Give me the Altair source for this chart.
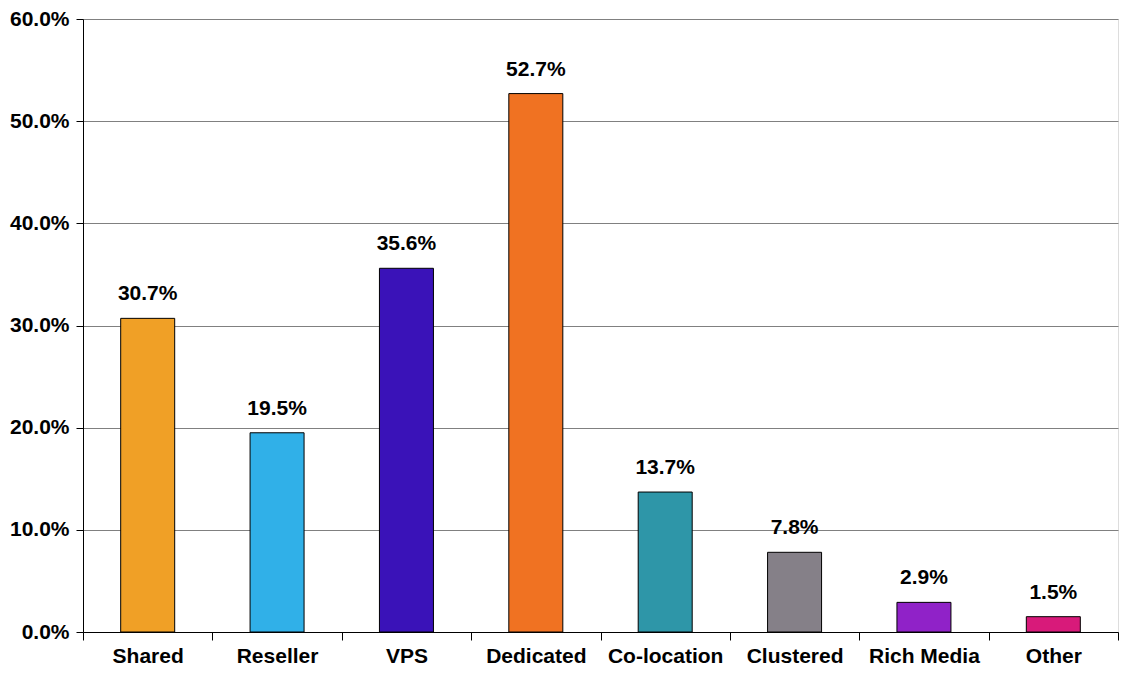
import altair as alt
import pandas as pd

categories = ["Shared", "Reseller", "VPS", "Dedicated", "Co-location", "Clustered", "Rich Media", "Other"]
values = [30.7, 19.5, 35.6, 52.7, 13.7, 7.8, 2.9, 1.5]
colors = ["#F0A026", "#30B0E8", "#3A12B8", "#F07222", "#2E96A8", "#858088", "#9022C8", "#D81A7A"]

df = pd.DataFrame({"cat": categories, "val": [v / 100 for v in values],
                   "label": [f"{v:.1f}%" for v in values]})

FONT = "Liberation Sans"
FS = 21

x = alt.X("cat:N", sort=categories, title=None,
          scale=alt.Scale(paddingInner=0, paddingOuter=0),
          axis=alt.Axis(labelAngle=0, tickBand="extent", tickSize=8, tickColor="#000000",
                        domainColor="#000000", labelPadding=5, labelFont=FONT,
                        labelFontSize=FS, labelFontWeight="bold", labelColor="#000000",
                        grid=False))
y = alt.Y("val:Q", title=None,
          scale=alt.Scale(domain=[0, 0.6], nice=False),
          axis=alt.Axis(format=".1%", values=[0, 0.1, 0.2, 0.3, 0.4, 0.5, 0.6],
                        tickSize=7, tickColor="#000000", domainColor="#000000",
                        labelPadding=7, labelFont=FONT, labelFontSize=FS,
                        labelFontWeight="bold", labelColor="#000000",
                        grid=True, gridColor="#808080", gridOpacity=1))

bars = alt.Chart(df).mark_bar(size=54, stroke="#000000", strokeWidth=1).encode(
    x=x, y=y,
    color=alt.Color("cat:N", sort=categories,
                    scale=alt.Scale(domain=categories, range=colors), legend=None),
)
text = alt.Chart(df).mark_text(dy=-14, baseline="bottom", font=FONT, fontSize=FS,
                               fontWeight="bold", color="#000000").encode(
    x=alt.X("cat:N", sort=categories), y="val:Q", text="label:N")

chart = (bars + text).properties(
    width=1035, height=613,
    autosize=alt.AutoSizeParams(type="none"),
    padding={"left": 75, "top": 11, "right": 1, "bottom": 37},
).configure_view(stroke="#808080", strokeWidth=1).configure(background="#ffffff")

chart.save("out.html", embed_options={"renderer": "svg", "actions": False})
